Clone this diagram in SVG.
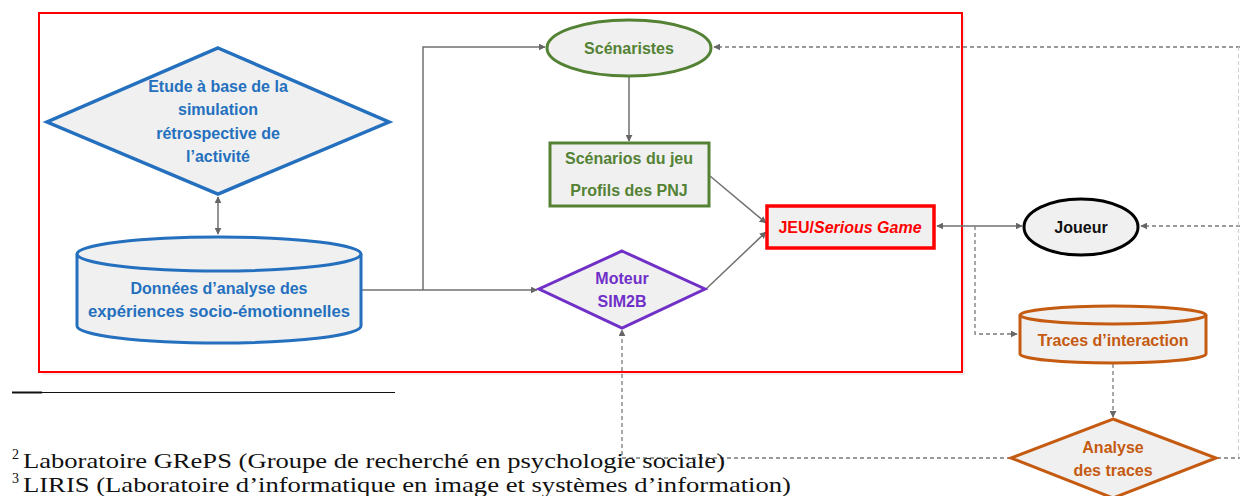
<svg xmlns="http://www.w3.org/2000/svg" width="1240" height="496" viewBox="0 0 1240 496">
<style>
.lbl{font-family:"Liberation Sans",Arial,sans-serif;font-weight:bold;text-anchor:middle;}
.blue{fill:#2470BE;font-size:16px;}
.green{fill:#548235;font-size:16px;}
.purple{fill:#7030C8;font-size:16px;}
.orange{fill:#C55A11;font-size:16px;}
.conn{fill:none;stroke:#707070;stroke-width:1.5;}
.dash{fill:none;stroke:#7a7a7a;stroke-width:1.3;stroke-dasharray:4 3;}
.foot{font-family:"Liberation Serif","Times New Roman",serif;font-size:21px;fill:#111;}
</style>
<defs>
<marker id="ah" viewBox="0 0 10 10" refX="9" refY="5" markerWidth="7" markerHeight="7" orient="auto-start-reverse" markerUnits="userSpaceOnUse">
<path d="M0,0 L10,5 L0,10 z" fill="#666"/>
</marker>
</defs>
<rect width="1240" height="496" fill="#fff"/>
<g id="frame">
<rect x="42" y="16" width="923" height="359" fill="#e6e6e6" opacity="0.6"/>
<rect x="39" y="13" width="923" height="359" fill="#fff" stroke="#FF0000" stroke-width="2"/>
</g>
<g id="connectors">
<line class="conn" x1="218" y1="197" x2="218" y2="234" marker-start="url(#ah)" marker-end="url(#ah)"/>
<polyline class="conn" points="361,290 537,290" marker-end="url(#ah)"/>
<polyline class="conn" points="423,290 423,47 545,47" marker-end="url(#ah)"/>
<line class="conn" x1="629" y1="77" x2="629" y2="141" marker-end="url(#ah)"/>
<line class="conn" x1="710" y1="176" x2="766" y2="223" marker-end="url(#ah)"/>
<line class="conn" x1="706" y1="289" x2="766" y2="232" marker-end="url(#ah)"/>
<line class="conn" x1="937" y1="226" x2="1022" y2="226" marker-start="url(#ah)" marker-end="url(#ah)"/>
<polyline class="dash" points="1240,47 714,47" marker-end="url(#ah)"/>
<polyline class="dash" points="1240,226 1141,226" marker-end="url(#ah)"/>
<polyline class="dash" points="975,226 975,334 1017,334" marker-end="url(#ah)"/>
<line class="dash" x1="1113" y1="364" x2="1113" y2="417" marker-end="url(#ah)"/>
<polyline class="dash" points="1011,458 622,458 622,330" marker-end="url(#ah)"/>
<line class="dash" x1="1217" y1="458" x2="1240" y2="458"/>
<line x1="1238.5" y1="47" x2="1238.5" y2="458" stroke="#d0d0d0" stroke-width="1" stroke-dasharray="4 3"/>
</g>
<g id="etude">
<polygon points="218,48 389,122 218,194 47,122" fill="#F0F0F0" stroke="#2470BE" stroke-width="3.5" stroke-linejoin="miter"/>
<text class="lbl blue" x="218" y="92">Etude à base de la</text>
<text class="lbl blue" x="218" y="115">simulation</text>
<text class="lbl blue" x="218" y="139">rétrospective de</text>
<text class="lbl blue" x="218" y="162">l’activité</text>
</g>
<g id="donnees">
<path d="M77,254 L77,326 A142,17 0 0 0 361,326 L361,254 A142,17 0 0 0 77,254 Z" fill="#F0F0F0" stroke="#2470BE" stroke-width="3"/>
<path d="M77,254 A142,17 0 0 0 361,254" fill="none" stroke="#2470BE" stroke-width="3"/>
<text class="lbl blue" x="219" y="294">Données d’analyse des</text>
<text class="lbl blue" x="219" y="317" textLength="262" lengthAdjust="spacingAndGlyphs">expériences socio-émotionnelles</text>
</g>
<g id="scenaristes">
<ellipse cx="629" cy="48" rx="82" ry="28" fill="#F0F0F0" stroke="#548235" stroke-width="3"/>
<text class="lbl green" x="629" y="54">Scénaristes</text>
</g>
<g id="scenarios">
<rect x="550" y="143" width="159" height="63" fill="#F0F0F0" stroke="#548235" stroke-width="3"/>
<text class="lbl green" x="629" y="164">Scénarios du jeu</text>
<text class="lbl green" x="629" y="196">Profils des PNJ</text>
</g>
<g id="moteur">
<polygon points="622,251 705,289 622,328 539,289" fill="#F0F0F0" stroke="#7030C8" stroke-width="3"/>
<text class="lbl purple" x="622" y="284">Moteur</text>
<text class="lbl purple" x="622" y="307">SIM2B</text>
</g>
<g id="jeu">
<rect x="767" y="206" width="167" height="42" fill="#F0F0F0" stroke="#FF0000" stroke-width="3.5"/>
<text class="lbl" x="850" y="233" style="fill:#FF0000;font-size:16px">JEU/<tspan font-style="italic">Serious Game</tspan></text>
</g>
<g id="joueur">
<ellipse cx="1081" cy="227" rx="57" ry="28" fill="#F0F0F0" stroke="#000" stroke-width="3"/>
<text class="lbl" x="1081" y="233" style="fill:#111;font-size:16px">Joueur</text>
</g>
<g id="traces">
<path d="M1020,315 L1020,354 A93,9 0 0 0 1206,354 L1206,315 A93,9 0 0 0 1020,315 Z" fill="#F0F0F0" stroke="#C55A11" stroke-width="3"/>
<path d="M1020,315 A93,9 0 0 0 1206,315" fill="none" stroke="#C55A11" stroke-width="3"/>
<text class="lbl orange" x="1113" y="346">Traces d’interaction</text>
</g>
<g id="analyse">
<polygon points="1113,419 1216,458 1113,498 1011,458" fill="#F0F0F0" stroke="#C55A11" stroke-width="3"/>
<text class="lbl orange" x="1113" y="453">Analyse</text>
<text class="lbl orange" x="1113" y="476">des traces</text>
</g>
<g id="footnotes">
<line x1="12" y1="392.5" x2="395" y2="392.5" stroke="#111" stroke-width="1"/>
<line x1="12" y1="392.5" x2="42" y2="392.5" stroke="#111" stroke-width="2"/>
<text class="foot" x="12" y="468"><tspan font-size="14" dy="-9">2</tspan><tspan dx="4" dy="9" textLength="702" lengthAdjust="spacingAndGlyphs">Laboratoire GRePS (Groupe de recherché en psychologie sociale)</tspan></text>
<text class="foot" x="12" y="492"><tspan font-size="14" dy="-9">3</tspan><tspan dx="4" dy="9" textLength="768" lengthAdjust="spacingAndGlyphs">LIRIS (Laboratoire d’informatique en image et systèmes d’information)</tspan></text>
</g>
</svg>
